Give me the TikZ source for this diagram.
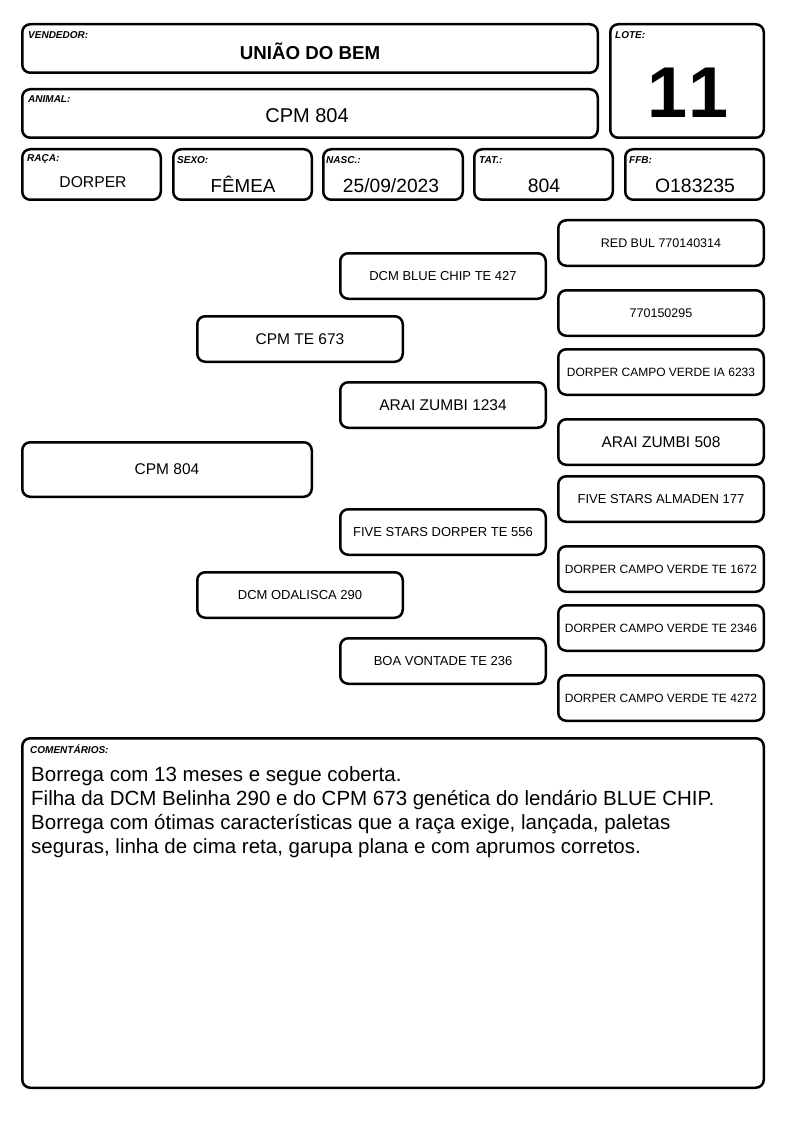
\documentclass[tikz,border=0pt]{standalone}
\usepackage{fontspec}
\setmainfont{Liberation Sans}
\newcommand\fs[1]{\fontsize{#1}{#1}\selectfont}
\tikzset{
  box/.style={draw=black, line width=2.5pt, rounded corners=8pt, inner sep=0pt, anchor=center, fill=white},
  lbl/.style={anchor=base west, inner sep=0pt, font=\fs{10}\bfseries\itshape},
  val/.style={anchor=base, inner sep=0pt}
}
% name, x1, y1, x2, y2, font, text
\newcommand\bxx[7]{\node[box, font=#6, minimum width={(#4-#2-2.5)*1pt}, minimum height={(#5-#3-2.5)*1pt}] (#1) at ({(#2+#4)/2},{(#3+#5)/2}) {#7};}
\begin{document}
\begin{tikzpicture}[x=1pt,y=-1pt]
\path[use as bounding box, fill=white] (0,0) rectangle (794,1123);
% header
\bxx{vend}{21}{23}{599}{74}{}{}
\bxx{anim}{21}{88}{599}{139}{}{}
\bxx{lote}{609}{23}{765}{139}{}{}
\bxx{raca}{21}{148}{162}{201}{}{}
\bxx{sexo}{172}{148}{313}{201}{}{}
\bxx{nasc}{322}{148}{464}{201}{}{}
\bxx{tat}{473}{148}{614}{201}{}{}
\bxx{ffb}{624}{148}{765}{201}{}{}
\node[lbl] (lvend) at (28,39) {VENDEDOR:};
\node[lbl] (lanim) at (28,103) {ANIMAL:};
\node[lbl] (llote) at (615,39) {LOTE:};
\node[lbl] (lraca) at (27,162) {RAÇA:};
\node[lbl] (lsexo) at (177,164) {SEXO:};
\node[lbl] (lnasc) at (326,164) {NASC.:};
\node[lbl] (ltat) at (479,164) {TAT.:};
\node[lbl] (lffb) at (629,164) {FFB:};
\node[val, font=\fs{18.7}\bfseries] (vvend) at (310,60) {UNIÃO DO BEM};
\node[val, font=\fs{20}] (vanim) at (307,123) {CPM 804};
\node[val, font=\fs{72}\bfseries\addfontfeature{Kerning=Off}] (vlote) at (688,118) {11};
\node[val, font=\fs{15.7}] (vraca) at (93,188) {DORPER};
\node[val, font=\fs{18.8}] (vsexo) at (243,193) {FÊMEA};
\node[val, font=\fs{19.2}] (vnasc) at (391,193) {25/09/2023};
\node[val, font=\fs{19.4}] (vtat) at (544,193) {804};
\node[val, font=\fs{19.4}] (vffb) at (695,193) {O183235};
% pedigree
\bxx{p0}{21}{441}{313}{498}{\fs{15.5}}{CPM 804}
\bxx{s}{196}{315}{404}{363}{\fs{15.5}}{CPM TE 673}
\bxx{d}{196}{571}{404}{619}{\fs{13}}{DCM ODALISCA 290}
\bxx{ss}{339}{252}{547}{300}{\fs{13}}{DCM BLUE CHIP TE 427}
\bxx{sd}{339}{381}{547}{429}{\fs{15.5}}{ARAI ZUMBI 1234}
\bxx{ds}{339}{508}{547}{556}{\fs{13}}{FIVE STARS DORPER TE 556}
\bxx{dd}{339}{637}{547}{685}{\fs{13}}{BOA VONTADE TE 236}
\bxx{sss}{557}{219}{765}{267}{\fs{12.5}}{RED BUL 770140314}
\bxx{ssd}{557}{289}{765}{337}{\fs{12.5}}{770150295}
\bxx{sds}{557}{348}{765}{396}{\fs{12}}{DORPER CAMPO VERDE IA 6233}
\bxx{sdd}{557}{418}{765}{466}{\fs{15.5}}{ARAI ZUMBI 508}
\bxx{dss}{557}{475}{765}{523}{\fs{13}}{FIVE STARS ALMADEN 177}
\bxx{dsd}{557}{545}{765}{593}{\fs{12}}{DORPER CAMPO VERDE TE 1672}
\bxx{dds}{557}{604}{765}{652}{\fs{12}}{DORPER CAMPO VERDE TE 2346}
\bxx{ddd}{557}{674}{765}{722}{\fs{12}}{DORPER CAMPO VERDE TE 4272}
% comments
\bxx{com}{21}{737}{765}{1089}{}{}
\node[lbl] (lcom) at (30,753) {COMENTÁRIOS:};
\node[anchor=base west, inner sep=0pt, font=\fs{20.5}] (c1) at (31,781) {Borrega com 13 meses e segue coberta.};
\node[anchor=base west, inner sep=0pt, font=\fs{20.5}] (c2) at (31,805) {Filha da DCM Belinha 290 e do CPM 673 genética do lendário BLUE CHIP.};
\node[anchor=base west, inner sep=0pt, font=\fs{20.5}] (c3) at (31,829) {Borrega com ótimas características que a raça exige, lançada, paletas};
\node[anchor=base west, inner sep=0pt, font=\fs{20.5}] (c4) at (31,853) {seguras, linha de cima reta, garupa plana e com aprumos corretos.};
\end{tikzpicture}
\end{document}
